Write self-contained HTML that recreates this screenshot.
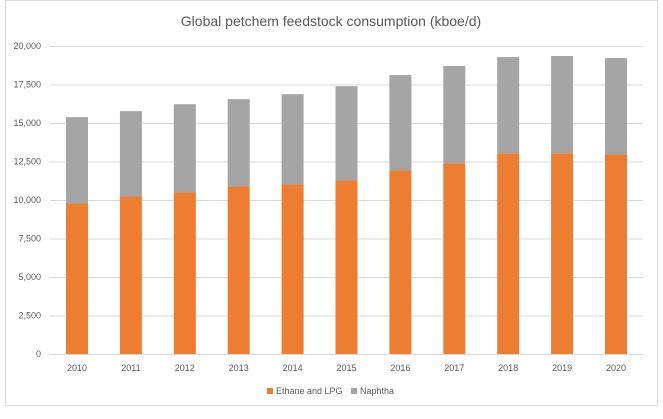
<!DOCTYPE html>
<html><head><meta charset="utf-8"><style>
body{margin:0;background:#fff;font-family:"Liberation Sans",sans-serif}
</style></head><body>
<svg width="663" height="414" id="c">
<rect x="5.5" y="0.5" width="652" height="405" fill="#fff" stroke="#d9d9d9"/>
<text x="331" y="26" text-anchor="middle" font-size="14" fill="#595959">Global petchem feedstock consumption (kboe/d)</text>
<g id="grid"></g><g id="bars"></g><g id="xl"></g>
<g>
<rect x="267" y="388" width="6" height="6" fill="#ed7d31"/>
<text x="276" y="394" font-size="9" fill="#595959">Ethane and LPG</text>
<rect x="351" y="388" width="6" height="6" fill="#a5a5a5"/>
<text x="360" y="394" font-size="9" fill="#595959">Naphtha</text>
</g>
</svg>
<script>
const years=["2010","2011","2012","2013","2014","2015","2016","2017","2018","2019","2020"];
const ethane=[9770,10230,10490,10880,11010,11270,11920,12380,13030,13030,12960];
const naphtha=[5610,5540,5730,5670,5860,6120,6190,6320,6250,6320,6260];
const yTicks=[0,2500,5000,7500,10000,12500,15000,17500,20000];
const ns="http://www.w3.org/2000/svg";
const y=v=>354-v*308/20000;
const x=i=>77+i*53.9;
function mk(t,a,p){const e=document.createElementNS(ns,t);for(const k in a)e.setAttribute(k,a[k]);document.getElementById(p).appendChild(e);return e;}
yTicks.forEach(v=>{
 const l=mk('line',{x1:50,x2:643,y1:y(v)+0.5,y2:y(v)+0.5,stroke:'#d9d9d9'},'grid');
 
 
 const t=mk('text',{x:41,y:y(v)+3,'text-anchor':'end','font-size':9,fill:'#595959'},'grid');
 t.textContent=v.toLocaleString('en-US');
 
 
});
years.forEach((yr,i)=>{
 const a=mk('rect',{x:x(i)-11,width:22,y:y(ethane[i]),height:y(0)-y(ethane[i]),fill:'#ed7d31'},'bars');
 
 
 const tot=ethane[i]+naphtha[i];
 const b=mk('rect',{x:x(i)-11,width:22,y:y(tot),height:y(ethane[i])-y(tot),fill:'#a5a5a5'},'bars');
 
 
 const t=mk('text',{x:x(i),y:371,'text-anchor':'middle','font-size':9,fill:'#595959'},'xl');
 t.textContent=yr;
 
 
});
</script>
</body></html>
